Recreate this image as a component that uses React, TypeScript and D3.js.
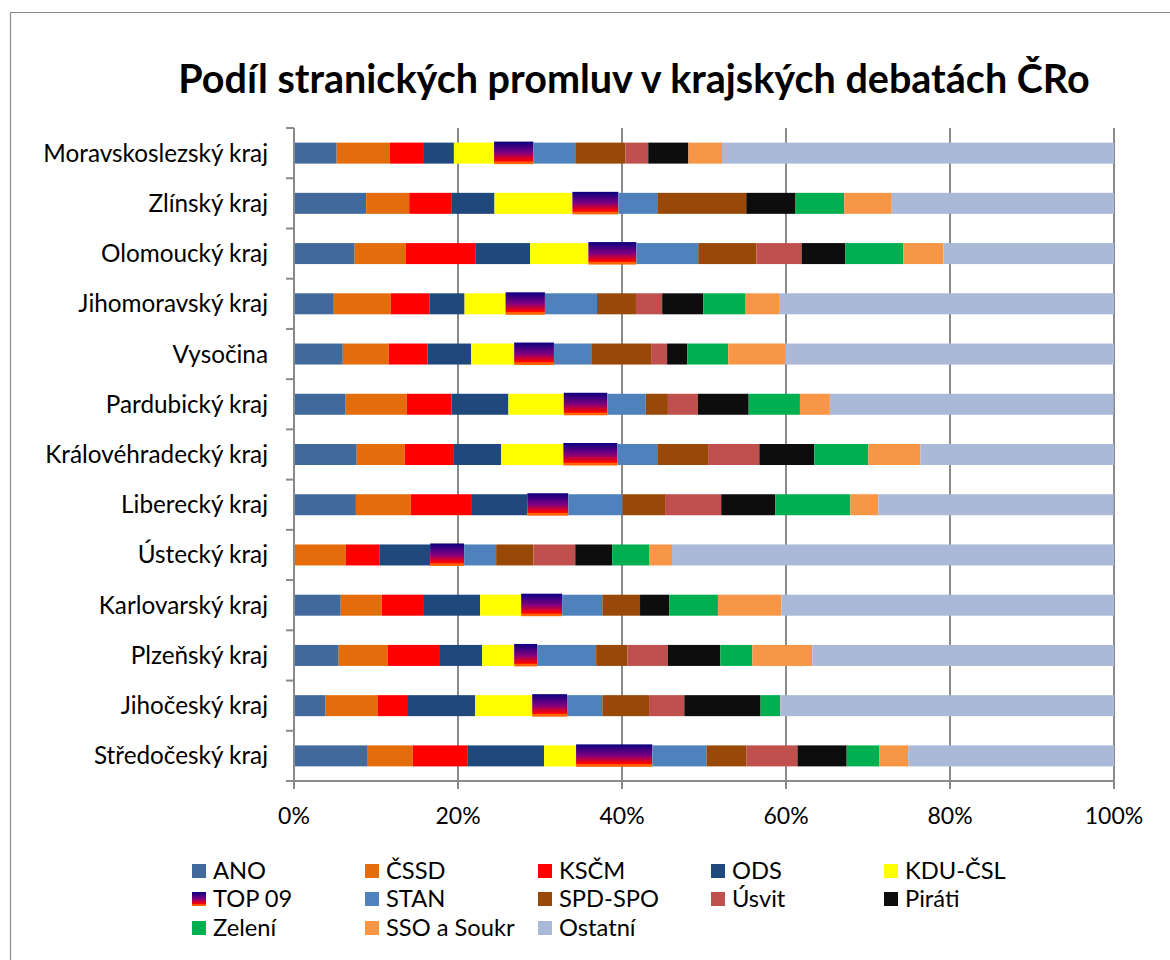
import React from "react";
import * as d3 from "d3";

const regions = [
  "Moravskoslezský kraj",
  "Zlínský kraj",
  "Olomoucký kraj",
  "Jihomoravský kraj",
  "Vysočina",
  "Pardubický kraj",
  "Královéhradecký kraj",
  "Liberecký kraj",
  "Ústecký kraj",
  "Karlovarský kraj",
  "Plzeňský kraj",
  "Jihočeský kraj",
  "Středočeský kraj",
];

const parties = [
  "ANO", "ČSSD", "KSČM", "ODS", "KDU-ČSL", "TOP 09", "STAN",
  "SPD-SPO", "Úsvit", "Piráti", "Zelení", "SSO a Soukr", "Ostatní",
];

// values in %, order follows regions
const ANO = [5.2, 8.8, 7.4, 4.85, 5.95, 6.3, 7.65, 7.55, 0, 5.7, 5.45, 3.85, 8.9];
const CSSD = [6.5, 5.25, 6.25, 6.95, 5.6, 7.45, 5.85, 6.7, 6.3, 5.0, 6.0, 6.35, 5.6];
const KSCM = [4.15, 5.2, 8.45, 4.7, 4.75, 5.45, 6.0, 7.45, 4.1, 5.15, 6.35, 3.7, 6.7];
const ODS = [3.65, 5.2, 6.7, 4.3, 5.3, 6.95, 5.75, 6.75, 6.2, 6.85, 5.15, 8.2, 9.3];
const KDU = [4.9, 9.5, 7.1, 5.0, 5.25, 6.75, 7.6, 0, 0, 5.0, 3.9, 6.95, 3.9];
const TOP09 = [4.8, 5.6, 5.85, 4.8, 4.85, 5.3, 6.6, 5.0, 4.15, 5.0, 2.8, 4.25, 9.3];
const STAN = [5.1, 4.75, 7.55, 6.35, 4.55, 4.7, 4.85, 6.6, 3.9, 4.9, 7.2, 4.3, 6.6];
const SPD = [6.1, 10.85, 7.1, 4.75, 7.3, 2.7, 6.2, 5.2, 4.55, 4.6, 3.8, 5.7, 4.9];
const USVIT = [2.8, 0, 5.5, 3.2, 1.95, 3.65, 6.25, 6.85, 5.1, 0, 4.95, 4.3, 6.2];
const PIRATI = [4.9, 5.95, 5.35, 5.0, 2.45, 6.2, 6.7, 6.6, 4.5, 3.55, 6.4, 9.3, 6.0];
const ZELENI = [0, 6.0, 7.05, 5.1, 5.0, 6.25, 6.6, 9.15, 4.5, 5.95, 3.9, 2.4, 4.0];
const SSO = [4.1, 5.8, 4.9, 4.15, 6.95, 3.65, 6.35, 3.4, 2.8, 7.75, 7.3, 0, 3.5];
const OSTATNI = [47.8, 27.1, 20.8, 40.85, 40.1, 34.6, 23.6, 28.7, 53.9, 40.55, 36.8, 40.7, 25.1];

const seriesValues = [ANO, CSSD, KSCM, ODS, KDU, TOP09, STAN, SPD, USVIT, PIRATI, ZELENI, SSO, OSTATNI];

const colors = [
  "#41699C", "#E46C0A", "#FF0000", "#1F497D", "#FFFF00", "url(#top09grad)",
  "#4F81BD", "#984807", "#C0504D", "#0D0D0D", "#00B050", "#F79646", "#AAB9D7",
];

const xTicks = [0, 20, 40, 60, 80, 100];

const FONT = "Lato, 'Open Sans', sans-serif";

export default function App() {
  const W = 1170;
  const H = 960;
  const x = d3.scaleLinear().domain([0, 100]).range([294, 1114]);
  const y = d3
    .scaleBand<string>()
    .domain(regions)
    .range([128, 781])
    .paddingInner(0.582)
    .paddingOuter(0.291);

  const rows = regions.map((r, i) => {
    const obj: Record<string, number | string> = { region: r };
    parties.forEach((p, j) => (obj[p] = seriesValues[j][i]));
    return obj;
  });
  const stacked = d3.stack<any>().keys(parties)(rows as any);

  const axisColor = "#8A8A8A";
  const step = y.step();
  const top = 128;
  const bottom = 781;
  const bw = y.bandwidth();

  const legendColX = [192, 365, 538, 711, 884];
  const legendRowY = [879, 907, 936];

  return (
    <svg
      width={W}
      height={H}
      style={{ position: "absolute", left: 0, top: 0, background: "#fff" }}
      fontFamily={FONT}
    >
      <defs>
        <linearGradient id="top09grad" x1="0" y1="0" x2="0" y2="1">
          <stop offset="0" stopColor="#0A0080" />
          <stop offset="0.5" stopColor="#800080" />
          <stop offset="0.84" stopColor="#FF0000" />
          <stop offset="0.88" stopColor="#FF2200" />
          <stop offset="0.9" stopColor="#FF6600" />
          <stop offset="1" stopColor="#FF6600" />
        </linearGradient>
      </defs>
      <rect x={0} y={0} width={W} height={H} fill="#fff" />
      <path d={`M10.5,${H} V12.5 H${W}`} fill="none" stroke="#8A8A8A" strokeWidth={1.2} />

      <text
        x={634}
        y={93}
        textAnchor="middle"
        fontSize={39.5}
        fontWeight="bold"
        fill="#000"
      >
        Podíl stranických promluv v krajských debatách ČRo
      </text>

      {/* gridlines */}
      {xTicks.slice(1).map((t) => (
        <line key={t} x1={x(t)} x2={x(t)} y1={top} y2={bottom} stroke={axisColor} strokeWidth={2} />
      ))}

      {/* bars */}
      {stacked.map((layer, j) => (
        <g key={parties[j]} fill={colors[j]}>
          {layer.map((d, i) => {
            const w = x(d[1]) - x(d[0]);
            if (w <= 0) return null;
            const yy = y(regions[i])!;
            const isTop = parties[j] === "TOP 09";
            return (
              <rect
                key={i}
                x={x(d[0])}
                y={isTop ? yy - 1 : yy}
                width={w}
                height={isTop ? bw + 1.5 : bw}
              />
            );
          })}
        </g>
      ))}

      {/* y axis */}
      <line x1={294} x2={294} y1={top} y2={bottom} stroke={axisColor} strokeWidth={2} />
      {d3.range(regions.length + 1).map((k) => (
        <line
          key={k}
          x1={286}
          x2={294}
          y1={top + k * step}
          y2={top + k * step}
          stroke={axisColor}
          strokeWidth={2}
        />
      ))}
      {regions.map((r) => (
        <text
          key={r}
          x={268}
          y={y(r)! + bw / 2 + 8.5}
          textAnchor="end"
          fontSize={24.3}
          fill="#000"
        >
          {r}
        </text>
      ))}

      {/* x axis */}
      <line x1={293} x2={1115} y1={bottom} y2={bottom} stroke={axisColor} strokeWidth={2} />
      {xTicks.map((t) => (
        <g key={t}>
          <line x1={x(t)} x2={x(t)} y1={bottom} y2={bottom + 8} stroke={axisColor} strokeWidth={2} />
          <text x={x(t)} y={824} textAnchor="middle" fontSize={23} fill="#000">
            {t}%
          </text>
        </g>
      ))}

      {/* legend */}
      {parties.map((p, j) => {
        const col = j % 5;
        const row = Math.floor(j / 5);
        const lx = legendColX[col];
        const ly = legendRowY[row];
        return (
          <g key={p}>
            <rect x={lx} y={ly - 15} width={14} height={14} fill={colors[j]} />
            <text x={lx + 21} y={ly} fontSize={23.7} fill="#000">
              {p}
            </text>
          </g>
        );
      })}
    </svg>
  );
}
